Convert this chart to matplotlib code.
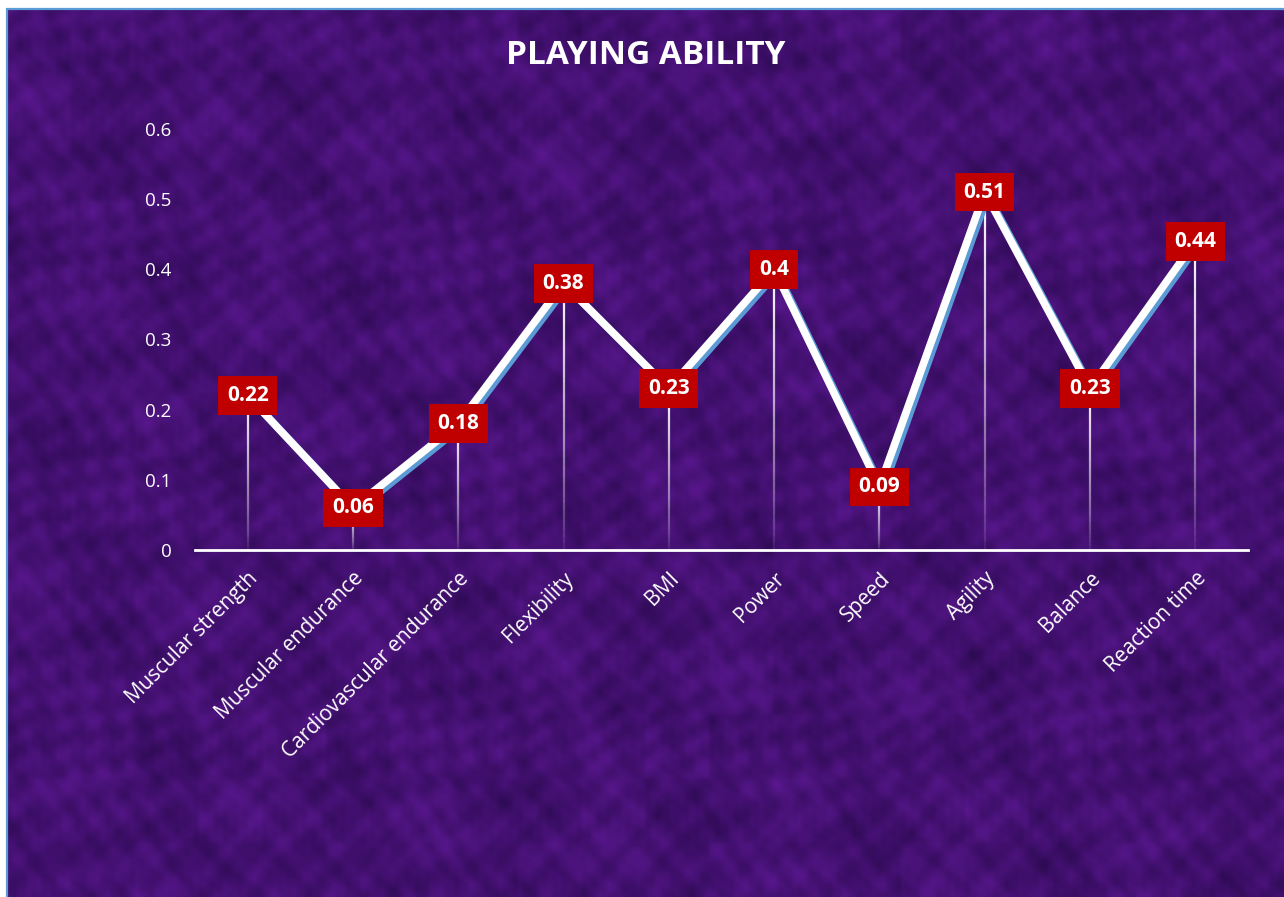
import numpy as np
import matplotlib
matplotlib.use("Agg")
import matplotlib.pyplot as plt
import matplotlib.patheffects as pe
from matplotlib.collections import LineCollection
from matplotlib.patches import Rectangle

# ---- data ----
categories = ["Muscular strength", "Muscular endurance", "Cardiovascular endurance",
              "Flexibility", "BMI", "Power", "Speed", "Agility", "Balance", "Reaction time"]
values = [0.22, 0.06, 0.18, 0.38, 0.23, 0.40, 0.09, 0.51, 0.23, 0.44]
value_labels = ["0.22", "0.06", "0.18", "0.38", "0.23", "0.4", "0.09", "0.51", "0.23", "0.44"]
yticks = [0, 0.1, 0.2, 0.3, 0.4, 0.5, 0.6]
ytick_labels = ["0", "0.1", "0.2", "0.3", "0.4", "0.5", "0.6"]
title = "PLAYING ABILITY"

FONT = ["Open Sans", "DejaVu Sans"]
W, H = 1284, 897
fig = plt.figure(figsize=(W / 100, H / 100), dpi=100, facecolor="white")

# ---- textured purple background (deterministic pattern) ----
bx0, by1 = 7 / W, 1 - 9 / H
bg = fig.add_axes([bx0, 0, 1 - bx0, by1])
bg.set_axis_off()
gh, gw = 180, 260
yy, xx = np.mgrid[0:gh, 0:gw].astype(float)
pat = (np.sin(xx * 0.57 + yy * 0.23 + np.sin(yy * 0.13) * 2.0) * np.cos(yy * 0.61 - xx * 0.17 + np.cos(xx * 0.09) * 2.5)
       + 0.6 * np.sin(xx * 1.13 + 1.3 + np.sin(yy * 0.3)) * np.sin(yy * 0.97 + 0.4 + np.cos(xx * 0.23))
       + 0.7 * np.cos(xx * 0.11 - yy * 0.19) * np.sin(xx * 0.07 + yy * 0.13 + 2.0)
       + 0.3 * np.sin(xx * 2.37 + yy * 1.91) * np.cos(xx * 0.77 - yy * 2.11)
       + 0.35 * np.sin(np.floor(xx / 13) * 2.1 + np.floor(yy / 13) * 1.7))
pat = (pat - pat.min()) / (pat.max() - pat.min())
dark = np.array([44, 10, 82]) / 255
light = np.array([92, 24, 146]) / 255
img = dark[None, None, :] + (light - dark)[None, None, :] * pat[..., None]
bg.imshow(img, aspect="auto", interpolation="bilinear", extent=[0, 1, 0, 1])
fig.add_artist(Rectangle((bx0, -0.01), 1.0, by1 + 0.01, transform=fig.transFigure,
                         fill=False, edgecolor="#5B9BD5", linewidth=1.6, zorder=5))

# ---- main axes ----
ax = fig.add_axes([195 / W, 1 - 550 / H, 1053 / W, 421 / H])
ax.patch.set_alpha(0)
x = np.arange(len(categories))
ax.set_xlim(-0.5, len(categories) - 0.5)
ax.set_ylim(0, 0.6)
for s in ["top", "right", "left"]:
    ax.spines[s].set_visible(False)
ax.spines["bottom"].set_color("white")
ax.spines["bottom"].set_linewidth(2)

ax.set_yticks(yticks)
ax.set_yticklabels(ytick_labels, family=FONT, fontsize=13.5, color="white")
ax.tick_params(axis="y", length=0, pad=17)
ax.set_xticks(x)
ax.set_xticklabels(categories, family=FONT, fontsize=15, color="white",
                   rotation=45, ha="right", va="top", rotation_mode="anchor")
ax.tick_params(axis="x", length=0, pad=13)

# drop lines with fading gradient
n = 40
for xi, v in zip(x, values):
    ys = np.linspace(0, v, n + 1)
    segs = [[(xi, ys[i]), (xi, ys[i + 1])] for i in range(n)]
    fr = (np.arange(n) + 0.5) / n
    alphas = np.clip(0.05 + 0.95 * fr ** 0.8, 0, 1)
    cols = [(1, 1, 1, a) for a in alphas]
    ax.add_collection(LineCollection(segs, colors=cols, linewidths=1.6, zorder=2))

# main line with blue shadow
ax.plot(x, values, color="white", linewidth=5.5, solid_joinstyle="miter", zorder=3,
        path_effects=[pe.SimpleLineShadow(offset=(2.2, -2.2), shadow_color="#5B9BD5", alpha=1.0),
                      pe.Normal()])

# data labels
for xi, v, lab in zip(x, values, value_labels):
    ax.text(xi, v, lab, ha="center", va="center", family=FONT, fontsize=15,
            fontweight="bold", color="white", zorder=5, clip_on=False,
            bbox=dict(boxstyle="square,pad=0.42", facecolor="#C00000", edgecolor="none"))

fig.text(646 / W, 1 - 55 / H, title, ha="center", va="center", family=FONT,
         fontsize=24, fontweight="bold", color="white")

fig.savefig("out.png", dpi=100, facecolor=fig.get_facecolor())
